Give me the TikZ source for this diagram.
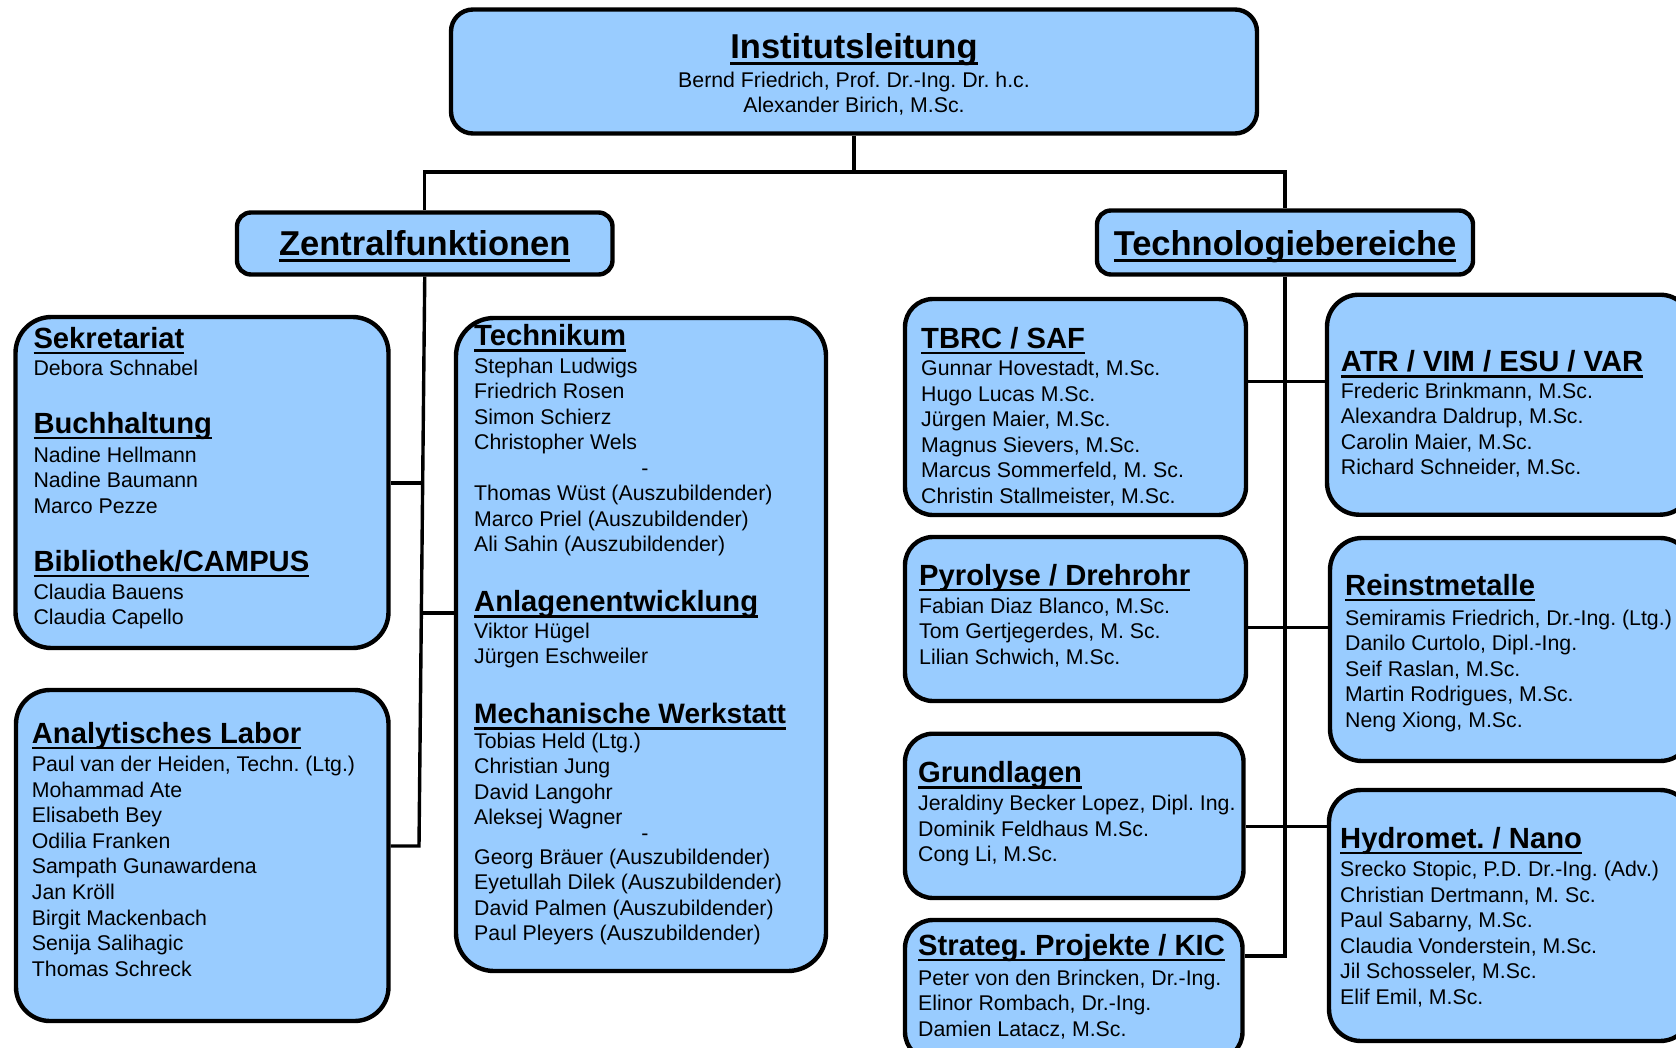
\documentclass[tikz,border=0pt]{standalone}
\usepackage{fontspec}
\setmainfont{Liberation Sans}
\usetikzlibrary{fit}
\definecolor{boxblue}{RGB}{153,204,255}
\frenchspacing
\newcommand\myul[1]{\setbox0=\hbox{#1}\rlap{\vrule height -3.6pt depth 6.4pt width \wd0}\box0}
\newcommand\biglul[1]{\setbox0=\hbox{#1}\rlap{\vrule height -4pt depth 7pt width \wd0}\box0}
\newcommand\mylines[1]{\parbox[t]{420pt}{#1}}
\begin{document}
\begin{tikzpicture}[x=1pt,y=-1pt,
  orgbox/.style={draw=black, line width=4.4pt, fill=boxblue, inner sep=0pt, rounded corners=#1},
  orgbox/.default=30pt,
  conn/.style={line width=3.4pt, line join=miter},
  htitle/.style={inner sep=0pt, anchor=base, font=\fontsize{34.5}{36}\selectfont\bfseries},
  stitle/.style={inner sep=0pt, anchor=base west, font=\fontsize{29.2}{30}\selectfont\bfseries},
  body/.style={inner sep=0pt, anchor=base west, font=\fontsize{21.3}{25.55}\selectfont},
  cbody/.style={inner sep=0pt, anchor=base, font=\fontsize{21.3}{25.4}\selectfont},
]
\clip (0,0) rectangle (1676,1047);
\fill[white] (0,0) rectangle (1676,1047);

% ---------- boxes ----------
\node[orgbox=22pt, fit={(451,9.5) (1257,133.5)}] (inst) {};
\node[orgbox=14pt, fit={(237,212.5) (612.5,274.5)}] (zent) {};
\node[orgbox=14pt, fit={(1097,210.5) (1473,274.5)}] (tech) {};

\node[orgbox=36pt, fit={(15.5,317) (388.5,648)}] (sekbox) {};
\node[orgbox=38pt, fit={(456,318) (826,971)}] (tkbox) {};
\node[orgbox=34pt, fit={(16,690) (388.5,1021)}] (anabox) {};

\node[orgbox=28pt, fit={(905,299) (1246,515)}] (tbrcbox) {};
\node[orgbox=28pt, fit={(905,537) (1246,701)}] (pyrobox) {};
\node[orgbox=28pt, fit={(905,733.7) (1243.5,898)}] (grundbox) {};
\node[orgbox=28pt, fit={(905,920) (1242.5,1060)}] (strbox) {};

\node[orgbox=32pt, fit={(1327,294.7) (1692,514.7)}] (atrbox) {};
\node[orgbox=32pt, fit={(1330,538) (1692,761)}] (reinbox) {};
\node[orgbox=32pt, fit={(1329,790) (1692,1041)}] (hydrobox) {};

% ---------- connectors ----------
\coordinate (jtop) at (854,172);
\draw[conn] (inst.south) -- (jtop);
\draw[conn] (zent.north) |- (jtop) -| (tech.north);

\coordinate (jsek) at (422.6,483);
\coordinate (jtk) at (421.3,613);
\coordinate (jana) at (419,846);
\draw[conn] (zent.south) -- (jana) -- (anabox.east |- jana);
\draw[conn] (sekbox.east |- jsek) -- (jsek);
\draw[conn] (jtk) -- (tkbox.west |- jtk);

\coordinate (ra) at (1285,381.7);
\coordinate (rb) at (1285,627.5);
\coordinate (rc) at (1285,826.5);
\coordinate (rend) at (1285,956);
\draw[conn] (tech.south) -- (rend) -- (strbox.east |- rend);
\draw[conn] (tbrcbox.east |- ra) -- (atrbox.west |- ra);
\draw[conn] (pyrobox.east |- rb) -- (reinbox.west |- rb);
\draw[conn] (grundbox.east |- rc) -- (hydrobox.west |- rc);

% ---------- top level texts ----------
\node[htitle] (instt) at (854,58.3) {\biglul{Institutsleitung}};
\node[cbody] (instb) at (854,87.3) {\parbox[t]{700pt}{\centering Bernd Friedrich, Prof. Dr.-Ing. Dr. h.c.\\Alexander Birich, M.Sc.}};
\node[htitle] (zentt) at (424.75,255) {\biglul{Zentralfunktionen}};
\node[htitle] (techt) at (1285,255) {\biglul{Technologiebereiche}};

% ---------- Zentralfunktionen ----------
\node[stitle] (sekt) at (33.3,348) {\myul{Sekretariat}};
\node[body] (sekb) at (33.3,375) {\mylines{Debora Schnabel}};
\node[stitle] (bucht) at (33.3,433) {\myul{Buchhaltung}};
\node[body] (buchb) at (33.3,462) {\mylines{Nadine Hellmann\\Nadine Baumann\\Marco Pezze}};
\node[stitle] (bibt) at (33.3,571) {\myul{Bibliothek/CAMPUS}};
\node[body] (bibb) at (33.3,599) {\mylines{Claudia Bauens\\Claudia Capello}};

\node[stitle] (anat) at (31.7,743) {\myul{Analytisches Labor}};
\node[body] (anab) at (31.7,771.7) {\mylines{Paul van der Heiden, Techn. (Ltg.)\\Mohammad Ate\\Elisabeth Bey\\Odilia Franken\\Sampath Gunawardena\\Jan Kröll\\Birgit Mackenbach\\Senija Salihagic\\Thomas Schreck}};

\node[stitle] (tkt) at (474,345.7) {\myul{Technikum}};
\node[body] (tkb) at (474,373) {\mylines{Stephan Ludwigs\\Friedrich Rosen\\Simon Schierz\\Christopher Wels\\[25.55pt]Thomas Wüst (Auszubildender)\\Marco Priel (Auszubildender)\\Ali Sahin (Auszubildender)}};
\node[body, anchor=base] (tkdash) at (645,475.8) {-};
\node[stitle] (anlt) at (474,611.7) {\myul{Anlagenentwicklung}};
\node[body] (anlb) at (474,638) {\mylines{Viktor Hügel\\Jürgen Eschweiler}};
\node[stitle, font=\fontsize{28.1}{30}\selectfont\bfseries] (mecht) at (474,723.3) {\myul{Mechanische Werkstatt}};
\node[body] (mechb) at (474,748.3) {\mylines{Tobias Held (Ltg.)\\Christian Jung\\David Langohr\\Aleksej Wagner\\[13.5pt]Georg Bräuer (Auszubildender)\\Eyetullah Dilek (Auszubildender)\\David Palmen (Auszubildender)\\Paul Pleyers (Auszubildender)}};
\node[body, anchor=base] (mechdash) at (645,840.8) {-};

% ---------- Technologiebereiche ----------
\node[stitle] (tbrct) at (921,348) {\myul{TBRC / SAF}};
\node[body] (tbrcb) at (921,375.7) {\mylines{Gunnar Hovestadt, M.Sc.\\Hugo Lucas M.Sc.\\Jürgen Maier, M.Sc.\\Magnus Sievers, M.Sc.\\Marcus Sommerfeld, M. Sc.\\Christin Stallmeister, M.Sc.}};

\node[stitle] (pyrot) at (919,585) {\myul{Pyrolyse / Drehrohr}};
\node[body] (pyrob) at (919,613.3) {\mylines{Fabian Diaz Blanco, M.Sc.\\Tom Gertjegerdes, M. Sc.\\Lilian Schwich, M.Sc.}};

\node[stitle] (grundt) at (918,782.7) {\myul{Grundlagen}};
\node[body] (grundb) at (918,810.7) {\mylines{Jeraldiny Becker Lopez, Dipl. Ing.\\Dominik Feldhaus M.Sc.\\Cong Li, M.Sc.}};

\node[stitle] (strt) at (918,955) {\myul{Strateg. Projekte / KIC}};
\node[body] (strb) at (918,985) {\mylines{Peter von den Brincken, Dr.-Ing.\\Elinor Rombach, Dr.-Ing.\\Damien Latacz, M.Sc.}};

\node[stitle] (atrt) at (1340.7,371.7) {\myul{ATR / VIM / ESU / VAR}};
\node[body] (atrb) at (1340.7,398.3) {\mylines{Frederic Brinkmann, M.Sc.\\Alexandra Daldrup, M.Sc.\\Carolin Maier, M.Sc.\\Richard Schneider, M.Sc.}};

\node[stitle] (reint) at (1345,595) {\myul{Reinstmetalle}};
\node[body] (reinb) at (1345,625) {\mylines{Semiramis Friedrich, Dr.-Ing. (Ltg.)\\Danilo Curtolo, Dipl.-Ing.\\Seif Raslan, M.Sc.\\Martin Rodrigues, M.Sc.\\Neng Xiong, M.Sc.}};

\node[stitle] (hydrot) at (1340,848) {\myul{Hydromet. / Nano}};
\node[body] (hydrob) at (1340,876.7) {\mylines{Srecko Stopic, P.D. Dr.-Ing. (Adv.)\\Christian Dertmann, M. Sc.\\Paul Sabarny, M.Sc.\\Claudia Vonderstein, M.Sc.\\Jil Schosseler, M.Sc.\\Elif Emil, M.Sc.}};
\end{tikzpicture}
\end{document}
